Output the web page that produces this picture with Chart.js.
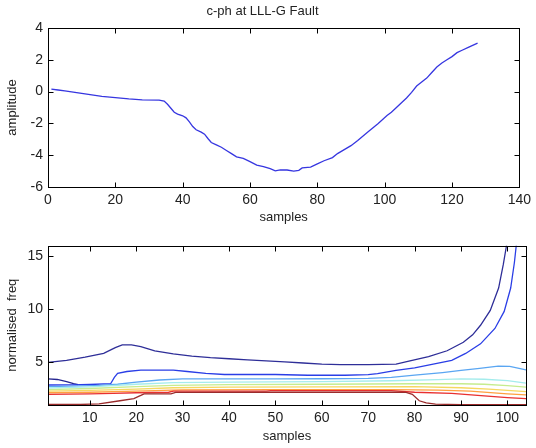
<!DOCTYPE html>
<html>
<head>
<meta charset="utf-8">
<script src="https://cdn.jsdelivr.net/npm/chart.js@4/dist/chart.umd.min.js"></script>
<style>
html,body{margin:0;padding:0;background:#fff;}
#wrap{position:relative;width:536px;height:448px;overflow:hidden;}
canvas{position:absolute;left:0;}
#c1{top:0;}
#c2{top:230px;}
</style>
</head>
<body>
<div id="wrap">
<canvas id="c1" width="536" height="230"></canvas>
<canvas id="c2" width="536" height="218"></canvas>
</div>
<script>
// ---------- top panel data ----------
const topTitle = 'c-ph at LLL-G Fault';
const topXTicks = [0, 20, 40, 60, 80, 100, 120, 140];
const topYTicks = [-6, -4, -2, 0, 2, 4];
const ampX = [1, 3, 5, 8, 12, 16, 20, 24, 28, 33, 34.5, 35.5, 36.5, 37.5, 38.5, 40, 41, 42, 43, 44, 45.5, 46.5, 47.5, 48.5, 50, 51.5, 53, 54.5, 56, 58, 60, 62, 64, 66, 67.5, 69, 71, 73, 74.5, 75.5, 78, 80, 82, 84.5, 86, 88, 90, 92, 95, 98, 100.7, 102, 103.5, 105, 106.5, 108, 109.5, 111, 112.5, 114, 115.5, 117, 118.5, 120, 121.5, 123, 125, 127.6];
const ampY = [0.15, 0.1, 0.05, -0.05, -0.18, -0.3, -0.38, -0.46, -0.52, -0.53, -0.6, -0.8, -1.05, -1.3, -1.42, -1.52, -1.65, -1.9, -2.2, -2.4, -2.55, -2.68, -2.95, -3.2, -3.35, -3.5, -3.7, -3.9, -4.1, -4.2, -4.4, -4.62, -4.72, -4.85, -4.98, -4.92, -4.93, -5.0, -4.95, -4.8, -4.75, -4.55, -4.35, -4.15, -3.9, -3.65, -3.4, -3.07, -2.54, -2.02, -1.5, -1.3, -1.0, -0.7, -0.4, -0.05, 0.35, 0.6, 0.85, 1.2, 1.55, 1.8, 2.0, 2.2, 2.45, 2.6, 2.8, 3.05];

// ---------- bottom panel data ----------
const botXTicks = [10, 20, 30, 40, 50, 60, 70, 80, 90, 100];
const botYTicks = [5, 10, 15];
const navyX = [1, 5, 9, 13, 15.5, 17, 19, 21, 24, 28, 32, 36, 40, 44, 48, 52, 56, 60, 64, 70, 76, 79, 83, 87, 90.5, 92.5, 94.2, 96.3, 98.1, 99.1, 99.8];
const navyY = [5.0, 5.2, 5.5, 5.85, 6.4, 6.65, 6.65, 6.5, 6.1, 5.8, 5.6, 5.45, 5.35, 5.25, 5.15, 5.05, 4.95, 4.85, 4.8, 4.8, 4.85, 5.15, 5.55, 6.1, 6.9, 7.6, 8.5, 9.9, 12.0, 14.2, 16];
const navy2X = [1, 3, 5, 6.5, 7.5];
const navy2Y = [3.46, 3.4, 3.2, 3.0, 2.92];
const blueX = [1, 6, 10, 14.5, 15.3, 16, 18, 21, 28, 31, 35, 39, 50, 57, 65, 70, 72, 76, 80, 84, 88, 91, 94.2, 97.3, 99.3, 100.7, 101.5, 101.9];
const blueY = [2.88, 2.9, 2.93, 3.0, 3.6, 3.97, 4.15, 4.28, 4.28, 4.15, 3.97, 3.87, 3.87, 3.8, 3.8, 3.85, 3.95, 4.25, 4.5, 4.85, 5.2, 5.85, 6.75, 8.2, 9.8, 12.0, 14.4, 16];
const lblueX = [1, 6, 12, 16, 20, 25, 30, 40, 50, 60, 70, 75, 80, 86, 90, 94, 98, 100.5, 102.5, 104];
const lblueY = [2.72, 2.78, 2.85, 2.95, 3.15, 3.35, 3.45, 3.45, 3.45, 3.47, 3.5, 3.6, 3.8, 4.05, 4.25, 4.45, 4.65, 4.63, 4.45, 4.3];
const cyanX = [1, 10, 20, 28, 40, 60, 75, 85, 90, 95, 100, 104];
const cyanY = [2.6, 2.7, 2.95, 3.1, 3.15, 3.2, 3.28, 3.38, 3.45, 3.42, 3.3, 3.05];
const greenX = [1, 10, 20, 28, 40, 60, 80, 90, 95, 100, 104];
const greenY = [2.45, 2.55, 2.72, 2.85, 2.92, 2.95, 3.0, 3.0, 2.95, 2.82, 2.68];
const yellowX = [1, 10, 20, 28, 40, 60, 80, 90, 96, 100, 104];
const yellowY = [2.3, 2.38, 2.5, 2.62, 2.68, 2.7, 2.72, 2.62, 2.5, 2.38, 2.25];
const orangeX = [1, 10, 20, 30, 50, 75, 85, 92, 100, 104];
const orangeY = [2.15, 2.2, 2.3, 2.42, 2.45, 2.45, 2.4, 2.3, 2.05, 1.95];
const redX = [1, 10, 15, 20, 27, 28, 48, 49, 75, 80, 88, 95, 100, 104];
const redY = [2.0, 2.05, 2.1, 2.15, 2.2, 2.3, 2.3, 2.35, 2.35, 2.2, 2.1, 1.85, 1.7, 1.6];
const dredX = [1, 8, 12, 16.5, 19.5, 21, 21.7, 27.5, 28.5, 50, 78, 79.5, 81, 82.5, 84.5, 90, 104];
const dredY = [1.05, 1.05, 1.1, 1.4, 1.6, 1.9, 2.05, 2.05, 2.18, 2.2, 2.2, 2.0, 1.4, 1.2, 1.08, 1.03, 1.03];

const FONT = "'Liberation Sans', Arial, Helvetica, sans-serif";
const TXT = '#222';

function pts(xs, ys){ return xs.map((x,i)=>({x:x, y:ys[i]})); }
function line(xs, ys, color){
  return {data: pts(xs, ys), borderColor: color, borderWidth: 1.3, pointRadius: 0, showLine: true, fill: false, tension: 0};
}

const boxPlugin = {
  id: 'matlabBox',
  afterDraw(chart){
    const {ctx, chartArea: a, scales: {x, y}} = chart;
    ctx.save();
    ctx.strokeStyle = '#000';
    ctx.lineWidth = 1;
    const L = Math.round(a.left)+0.5, R = Math.round(a.right)+0.5, T = Math.round(a.top)+0.5, B = Math.round(a.bottom)+0.5;
    ctx.strokeRect(L, T, R-L, B-T);
    ctx.beginPath();
    x.ticks.forEach(t=>{
      const px = Math.round(x.getPixelForValue(t.value))+0.5;
      ctx.moveTo(px, B); ctx.lineTo(px, B-5);
      ctx.moveTo(px, T); ctx.lineTo(px, T+5);
    });
    y.ticks.forEach(t=>{
      const py = Math.round(y.getPixelForValue(t.value))+0.5;
      ctx.moveTo(L, py); ctx.lineTo(L+5, py);
      ctx.moveTo(R, py); ctx.lineTo(R-5, py);
    });
    ctx.stroke();
    ctx.restore();
  }
};

function axis(min, max, ticksArr, titleText, isX, fitSize, tickPad, titlePad){
  return {
    type: 'linear', min: min, max: max,
    afterBuildTicks: s => { s.ticks = ticksArr.map(v=>({value:v})); },
    afterFit: s => { if (isX) s.height = fitSize; else s.width = fitSize; },
    grid: {display: false, drawTicks: false},
    border: {display: false},
    ticks: {font: {family: FONT, size: 14}, color: TXT, padding: tickPad, maxRotation: 0, autoSkip: false},
    title: {display: true, text: titleText, font: {family: FONT, size: 13}, color: TXT, padding: titlePad}
  };
}

Chart.defaults.animation = false;

new Chart(document.getElementById('c1'), {
  type: 'scatter',
  data: {datasets: [line(ampX, ampY, '#3636e0')]},
  options: {
    responsive: false, devicePixelRatio: 1, animation: false,
    layout: {padding: {left: 0, right: 11, top: 0, bottom: 0}},
    plugins: {
      legend: {display: false}, tooltip: {enabled: false},
      title: {display: true, text: topTitle, font: {family: FONT, size: 13, weight: 'normal'}, color: TXT, padding: {top: 4, bottom: 8.4}}
    },
    scales: {
      x: axis(0, 140, topXTicks, 'samples', true, 43, 5, {top: 0, bottom: 5}),
      y: axis(-6, 4, topYTicks, 'amplitude', false, 48, 5, {top: 5, bottom: 0})
    }
  },
  plugins: [boxPlugin]
});

new Chart(document.getElementById('c2'), {
  type: 'scatter',
  data: {datasets: [
    line(dredX, dredY, '#9a2b2b'),
    line(redX, redY, '#e83030'),
    line(orangeX, orangeY, '#ffa040'),
    line(yellowX, yellowY, '#f5d860'),
    line(greenX, greenY, '#c6ec8e'),
    line(cyanX, cyanY, '#a4ecec'),
    line(lblueX, lblueY, '#5aa6f2'),
    line(blueX, blueY, '#2a3ee6'),
    line(navy2X, navy2Y, '#262690'),
    line(navyX, navyY, '#2e2e98')
  ]},
  options: {
    responsive: false, devicePixelRatio: 1, animation: false,
    layout: {padding: {left: 0, right: 10, top: 15.5, bottom: 0}},
    plugins: {legend: {display: false}, tooltip: {enabled: false}},
    scales: {
      x: axis(1, 104, botXTicks, 'samples', true, 43, 5, {top: 0, bottom: 4}),
      y: axis(1, 16, botYTicks, 'normalised  freq', false, 48, 5, {top: 5, bottom: 0})
    }
  },
  plugins: [boxPlugin]
});
</script>
</body>
</html>
